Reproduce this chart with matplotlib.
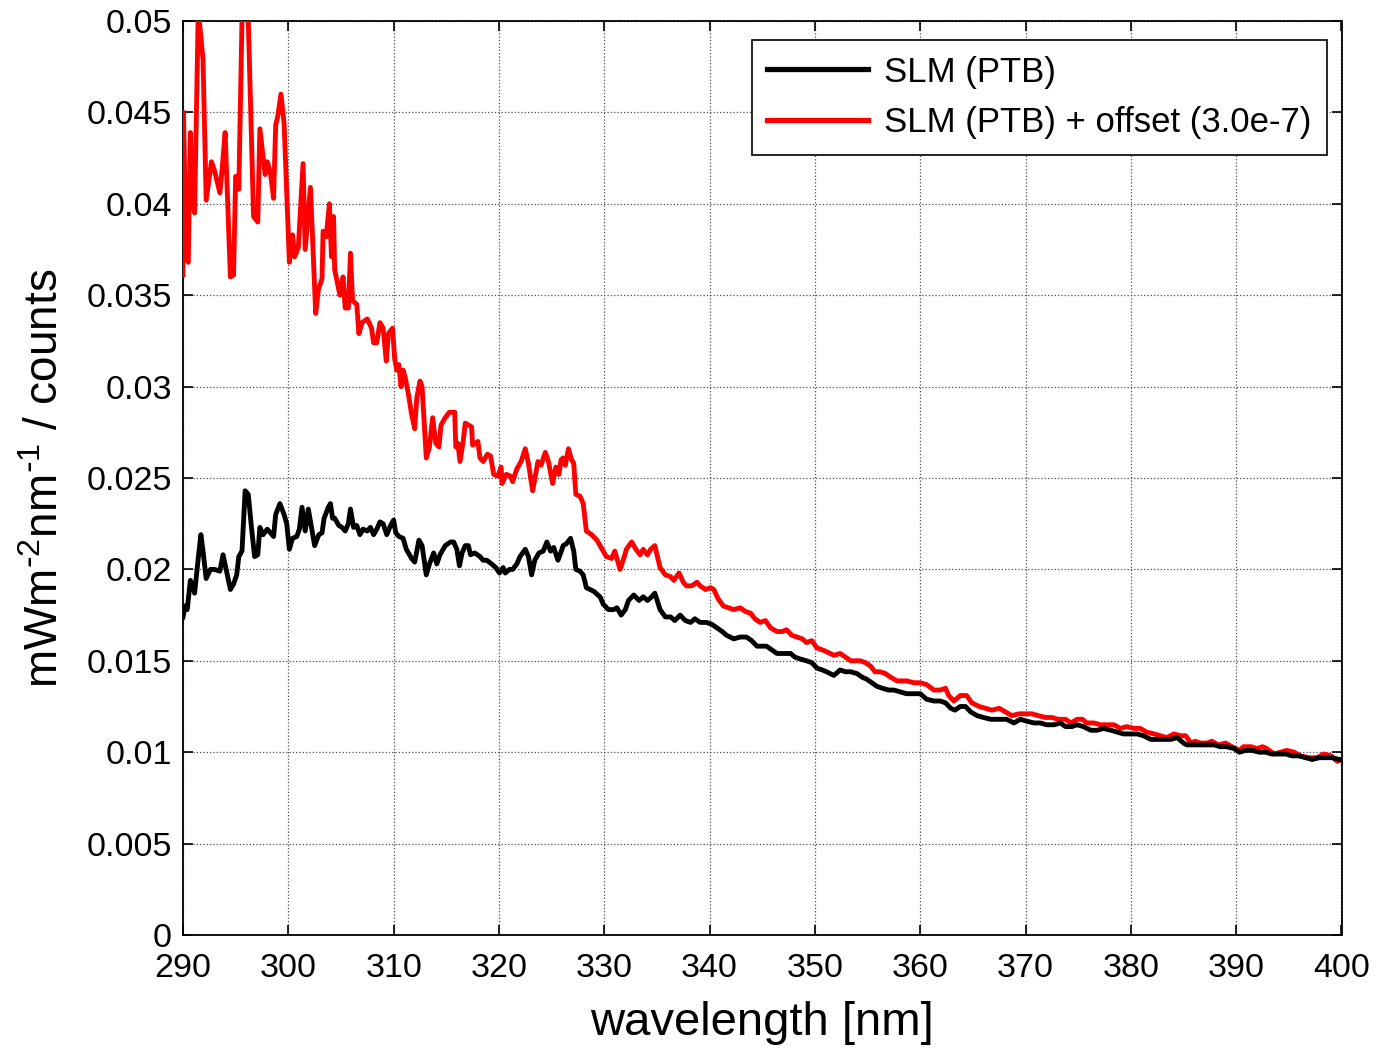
import matplotlib
matplotlib.use("Agg")
import matplotlib.pyplot as plt

# Spectral calibration factor, plain and with count offset
wl_offset = [
    290.0, 290.05, 290.3, 290.5, 290.7, 290.9, 291.1, 291.45, 291.9, 292.2,
    292.7, 293.0, 293.5, 293.7, 294.0, 294.5, 294.8, 295.0, 295.3, 295.6,
    295.9, 296.2, 296.7, 297.1, 297.3, 297.8, 298.0, 298.3, 298.6, 298.8,
    299.0, 299.3, 299.6, 300.1, 300.4, 300.6, 300.95, 301.4, 301.6, 302.1,
    302.6, 302.85, 303.2, 303.3, 303.6, 303.9, 304.1, 304.3, 304.4, 304.9,
    305.2, 305.4, 305.7, 305.9, 306.1, 306.5, 306.7, 307.0, 307.5, 307.9,
    308.1, 308.4, 308.7, 309.0, 309.3, 309.5, 309.9, 310.1, 310.3, 310.5,
    310.7, 310.9, 311.1, 311.4, 311.7, 312.0, 312.2, 312.5, 312.7, 313.1,
    313.4, 313.7, 314.0, 314.3, 314.5, 314.9, 315.3, 315.8, 315.9, 316.1,
    316.3, 316.6, 316.8, 317.1, 317.4, 317.5, 318.0, 318.2, 318.5, 318.9,
    319.2, 319.5, 319.9, 320.2, 320.3, 320.7, 321.1, 321.3, 321.7, 322.1,
    322.5, 322.8, 323.2, 323.7, 324.0, 324.4, 324.7, 325.1, 325.4, 325.7,
    325.9, 326.1, 326.3, 326.6, 326.9, 327.1, 327.3, 327.7, 328.0, 328.3,
    328.8, 329.3, 329.8, 330.2, 330.7, 331.0, 331.5, 331.9, 332.1, 332.6,
    333.0, 333.4, 333.7, 334.1, 334.4, 334.8, 335.3, 335.8, 336.3, 336.6,
    337.1, 337.5, 337.8, 338.3, 338.8, 339.1, 339.6, 340.1, 340.4, 340.8,
    341.3, 341.8, 342.3, 342.9, 343.4, 343.9, 344.3, 344.8, 345.3, 345.8,
    346.4, 346.9, 347.3, 347.8, 348.3, 348.8, 349.2, 349.7, 350.2, 350.7,
    351.1, 351.8, 352.4, 352.9, 353.4, 353.8, 354.3, 354.8, 355.3, 355.7,
    356.2, 356.7, 357.2, 357.8, 358.7, 359.4, 360.0, 360.6, 361.3, 361.9,
    362.4, 362.7, 363.2, 363.8, 364.4, 364.9, 365.6, 366.2, 366.8, 367.5,
    368.1, 368.7, 369.4, 370.0, 370.6, 371.2, 371.9, 372.5, 373.1, 373.8,
    374.3, 374.9, 375.4, 375.8, 376.5, 377.1, 377.7, 378.4, 379.0, 379.6,
    380.3, 380.9, 381.5, 382.2, 382.8, 383.4, 384.1, 384.7, 385.2, 385.7,
    386.1, 386.6, 387.2, 387.7, 388.3, 389.0, 389.6, 390.3, 390.7, 391.4,
    392.0, 392.5, 392.9, 393.6, 394.2, 394.8, 395.5, 396.1, 396.9, 397.7,
    398.3, 399.0, 399.6, 400.0,
]
slm_offset = [
    0.0361, 0.0450, 0.0371, 0.0368, 0.0439, 0.0401, 0.0395, 0.0506, 0.0479, 0.0402,
    0.0423, 0.0418, 0.0406, 0.0418, 0.0439, 0.0360, 0.0361, 0.0415, 0.0408, 0.0500,
    0.0530, 0.0500, 0.0393, 0.0390, 0.0441, 0.0416, 0.0423, 0.0417, 0.0403, 0.0443,
    0.0448, 0.0460, 0.0444, 0.0368, 0.0383, 0.0371, 0.0376, 0.0422, 0.0375, 0.0409,
    0.0340, 0.0353, 0.0359, 0.0385, 0.0382, 0.0400, 0.0371, 0.0393, 0.0364, 0.0350,
    0.0360, 0.0343, 0.0343, 0.0373, 0.0347, 0.0345, 0.0329, 0.0335, 0.0337, 0.0332,
    0.0324, 0.0324, 0.0335, 0.0332, 0.0314, 0.0329, 0.0332, 0.0315, 0.0309, 0.0312,
    0.0300, 0.0309, 0.0305, 0.0296, 0.0285, 0.0277, 0.0294, 0.0303, 0.0300, 0.0261,
    0.0267, 0.0283, 0.0269, 0.0267, 0.0279, 0.0283, 0.0286, 0.0286, 0.0267, 0.0269,
    0.0259, 0.0270, 0.0280, 0.0279, 0.0278, 0.0268, 0.0270, 0.0261, 0.0259, 0.0263,
    0.0262, 0.0252, 0.0251, 0.0256, 0.0247, 0.0252, 0.0251, 0.0248, 0.0255, 0.0259,
    0.0266, 0.0258, 0.0243, 0.0259, 0.0257, 0.0264, 0.0259, 0.0247, 0.0256, 0.0252,
    0.0260, 0.0261, 0.0257, 0.0266, 0.0260, 0.0258, 0.0241, 0.0240, 0.0236, 0.0221,
    0.0219, 0.0216, 0.0211, 0.0207, 0.0206, 0.0210, 0.0200, 0.0207, 0.0211, 0.0215,
    0.0211, 0.0208, 0.0211, 0.0208, 0.0211, 0.0213, 0.0201, 0.0197, 0.0196, 0.0194,
    0.0198, 0.0193, 0.0191, 0.0191, 0.0193, 0.0191, 0.0189, 0.0190, 0.0189, 0.0184,
    0.0180, 0.0179, 0.0178, 0.0179, 0.0177, 0.0176, 0.0173, 0.0171, 0.0172, 0.0168,
    0.0166, 0.0166, 0.0167, 0.0164, 0.0163, 0.0162, 0.0160, 0.0161, 0.0157, 0.0156,
    0.0155, 0.0153, 0.0154, 0.0152, 0.0150, 0.0150, 0.0150, 0.0149, 0.0147, 0.0144,
    0.0144, 0.0143, 0.0141, 0.0139, 0.0139, 0.0138, 0.0138, 0.0137, 0.0134, 0.0134,
    0.0135, 0.0131, 0.0128, 0.0131, 0.0131, 0.0127, 0.0125, 0.0124, 0.0123, 0.0124,
    0.0122, 0.0120, 0.0121, 0.0121, 0.0121, 0.0120, 0.0119, 0.0119, 0.0118, 0.0118,
    0.0116, 0.0118, 0.0118, 0.0116, 0.0116, 0.0115, 0.0115, 0.0115, 0.0113, 0.0114,
    0.0113, 0.0113, 0.0111, 0.0110, 0.0109, 0.0108, 0.0110, 0.0109, 0.0109, 0.0105,
    0.0106, 0.0105, 0.0105, 0.0106, 0.0104, 0.0105, 0.0103, 0.0101, 0.0103, 0.0103,
    0.0102, 0.0103, 0.0102, 0.0099, 0.0100, 0.0101, 0.0100, 0.0098, 0.0097, 0.0097,
    0.0099, 0.0098, 0.0095, 0.0096,
]

wl_plain = [
    290.0, 290.2, 290.4, 290.7, 290.9, 291.1, 291.5, 291.7, 291.9, 292.2,
    292.6, 293.0, 293.5, 293.8, 294.1, 294.5, 294.8, 295.1, 295.3, 295.6,
    295.9, 296.2, 296.5, 296.8, 297.1, 297.3, 297.6, 298.0, 298.3, 298.6,
    298.8, 299.2, 299.6, 299.85, 300.1, 300.4, 300.8, 301.05, 301.3, 301.6,
    301.9, 302.2, 302.5, 302.9, 303.2, 303.4, 303.8, 304.0, 304.2, 304.4,
    304.8, 305.1, 305.4, 305.7, 305.9, 306.2, 306.5, 306.8, 307.1, 307.5,
    307.8, 308.1, 308.4, 308.7, 309.0, 309.35, 309.7, 310.0, 310.2, 310.5,
    310.9, 311.2, 311.7, 312.0, 312.4, 312.7, 313.1, 313.4, 313.8, 314.1,
    314.4, 314.9, 315.4, 315.7, 316.0, 316.25, 316.5, 316.8, 317.1, 317.3,
    317.7, 318.2, 318.5, 318.85, 319.3, 319.7, 320.05, 320.4, 320.6, 321.0,
    321.3, 321.7, 322.0, 322.5, 322.8, 323.1, 323.4, 323.8, 324.2, 324.55,
    324.9, 325.2, 325.6, 325.8, 326.1, 326.4, 326.8, 327.1, 327.3, 327.7,
    328.0, 328.3, 329.0, 329.6, 329.9, 330.4, 330.9, 331.2, 331.6, 332.0,
    332.3, 332.8, 333.3, 333.7, 334.1, 334.5, 334.8, 335.3, 335.8, 336.3,
    336.7, 337.2, 337.7, 338.2, 338.6, 339.1, 339.7, 340.2, 340.7, 341.2,
    341.6, 342.3, 342.9, 343.5, 344.0, 344.5, 345.0, 345.4, 345.9, 346.4,
    347.0, 347.7, 348.1, 348.6, 349.2, 349.7, 350.2, 350.7, 351.1, 351.8,
    352.4, 352.9, 353.4, 354.0, 354.5, 354.9, 355.4, 355.9, 356.4, 357.0,
    357.5, 358.1, 358.7, 359.4, 360.0, 360.6, 361.3, 361.9, 362.4, 362.9,
    363.3, 363.8, 364.3, 364.8, 365.4, 366.0, 366.7, 367.3, 367.8, 368.2,
    368.9, 369.5, 370.1, 370.8, 371.4, 372.0, 372.7, 373.3, 373.8, 374.4,
    374.9, 375.5, 376.2, 376.8, 377.4, 378.1, 378.7, 379.3, 380.0, 380.6,
    381.2, 381.9, 382.5, 383.1, 383.8, 384.4, 385.0, 385.3, 386.0, 386.6,
    387.2, 387.9, 388.5, 389.1, 389.8, 390.3, 390.9, 391.5, 392.2, 392.8,
    393.4, 394.0, 394.7, 395.3, 395.9, 396.6, 397.2, 397.9, 398.5, 399.1,
    399.8, 400.0,
]
slm_plain = [
    0.0174, 0.0180, 0.0178, 0.0194, 0.0191, 0.0187, 0.0209, 0.0219, 0.0210, 0.0195,
    0.0200, 0.0200, 0.0199, 0.0208, 0.0200, 0.0189, 0.0192, 0.0197, 0.0207, 0.0210,
    0.0243, 0.0241, 0.0223, 0.0207, 0.0208, 0.0223, 0.0219, 0.0222, 0.0220, 0.0218,
    0.0230, 0.0236, 0.0230, 0.0225, 0.0211, 0.0217, 0.0218, 0.0222, 0.0234, 0.0221,
    0.0233, 0.0223, 0.0213, 0.0219, 0.0220, 0.0228, 0.0234, 0.0236, 0.0228, 0.0228,
    0.0224, 0.0223, 0.0221, 0.0225, 0.0233, 0.0223, 0.0224, 0.0219, 0.0222, 0.0221,
    0.0223, 0.0219, 0.0222, 0.0226, 0.0225, 0.0219, 0.0224, 0.0227, 0.0220, 0.0218,
    0.0217, 0.0211, 0.0206, 0.0204, 0.0216, 0.0213, 0.0197, 0.0203, 0.0209, 0.0203,
    0.0208, 0.0213, 0.0215, 0.0215, 0.0211, 0.0202, 0.0209, 0.0213, 0.0213, 0.0208,
    0.0209, 0.0207, 0.0205, 0.0205, 0.0203, 0.0201, 0.0198, 0.0201, 0.0198, 0.0200,
    0.0200, 0.0203, 0.0207, 0.0211, 0.0207, 0.0197, 0.0205, 0.0209, 0.0210, 0.0215,
    0.0210, 0.0212, 0.0205, 0.0208, 0.0213, 0.0214, 0.0217, 0.0210, 0.0200, 0.0199,
    0.0197, 0.0190, 0.0188, 0.0185, 0.0181, 0.0178, 0.0178, 0.0179, 0.0175, 0.0178,
    0.0183, 0.0186, 0.0183, 0.0185, 0.0183, 0.0185, 0.0187, 0.0178, 0.0174, 0.0174,
    0.0172, 0.0175, 0.0172, 0.0171, 0.0173, 0.0171, 0.0171, 0.0170, 0.0168, 0.0166,
    0.0164, 0.0162, 0.0163, 0.0163, 0.0161, 0.0158, 0.0158, 0.0158, 0.0156, 0.0154,
    0.0154, 0.0154, 0.0152, 0.0151, 0.0150, 0.0149, 0.0146, 0.0145, 0.0144, 0.0142,
    0.0145, 0.0144, 0.0144, 0.0143, 0.0141, 0.0140, 0.0138, 0.0136, 0.0135, 0.0134,
    0.0134, 0.0133, 0.0132, 0.0132, 0.0132, 0.0129, 0.0128, 0.0128, 0.0127, 0.0124,
    0.0123, 0.0125, 0.0125, 0.0122, 0.0120, 0.0119, 0.0118, 0.0118, 0.0118, 0.0118,
    0.0116, 0.0118, 0.0117, 0.0116, 0.0116, 0.0115, 0.0115, 0.0116, 0.0114, 0.0114,
    0.0115, 0.0114, 0.0112, 0.0112, 0.0113, 0.0112, 0.0111, 0.0110, 0.0110, 0.0110,
    0.0109, 0.0107, 0.0107, 0.0107, 0.0107, 0.0108, 0.0105, 0.0104, 0.0104, 0.0104,
    0.0104, 0.0104, 0.0103, 0.0103, 0.0102, 0.0100, 0.0101, 0.0101, 0.0100, 0.0100,
    0.0099, 0.0099, 0.0099, 0.0098, 0.0098, 0.0097, 0.0096, 0.0097, 0.0097, 0.0097,
    0.0096, 0.0096,
]

labels = ["SLM (PTB)", "SLM (PTB) + offset (3.0e-7)"]
x_ticks = [290, 300, 310, 320, 330, 340, 350, 360, 370, 380, 390, 400]
y_ticks = [0, 0.005, 0.01, 0.015, 0.02, 0.025, 0.03, 0.035, 0.04, 0.045, 0.05]
y_tick_labels = ["0", "0.005", "0.01", "0.015", "0.02", "0.025", "0.03",
                 "0.035", "0.04", "0.045", "0.05"]

plt.rcParams["font.family"] = ["Liberation Sans", "DejaVu Sans"]
plt.rcParams["mathtext.default"] = "regular"

fig = plt.figure(figsize=(13.77, 10.48), dpi=100)
ax = fig.add_axes([183 / 1377, 1 - 935 / 1048, (1341.5 - 183) / 1377, (935 - 21) / 1048])

ax.plot(wl_offset, slm_offset, color="red", lw=3.5, label=labels[1], zorder=3)
ax.plot(wl_plain, slm_plain, color="black", lw=3.5, label=labels[0], zorder=4)

ax.set_xlim(290, 400)
ax.set_ylim(0, 0.05)
ax.set_xticks(x_ticks)
ax.set_xticklabels([str(t) for t in x_ticks])
ax.set_yticks(y_ticks)
ax.set_yticklabels(y_tick_labels)

ax.grid(True, linestyle=":", color="0.3", linewidth=0.9)
ax.set_axisbelow(True)
ax.tick_params(direction="in", top=True, right=True, length=7, width=1.2,
               labelsize=24.5, colors="black")
ax.tick_params(axis="x", pad=13)
ax.tick_params(axis="y", pad=8)
for sp in ax.spines.values():
    sp.set_linewidth(1.3)
    sp.set_color("black")

ax.set_xlabel("wavelength [nm]", fontsize=34, labelpad=12)
ax.set_ylabel(r"mWm$^{\text{-}2}$nm$^{\text{-}1}$ / counts", fontsize=33, labelpad=13)

handles, hlabels = ax.get_legend_handles_labels()
order = [1, 0]
leg = ax.legend([handles[i] for i in order], [hlabels[i] for i in order],
                loc="upper right", bbox_to_anchor=(1327 / 1377, 1 - 40 / 1048),
                bbox_transform=fig.transFigure, fontsize=25, frameon=True,
                fancybox=False, edgecolor="black", framealpha=1,
                handlelength=2.9, handletextpad=0.46, borderpad=0.45,
                labelspacing=0.5, borderaxespad=0)
leg.get_frame().set_linewidth(1.2)
for h in leg.get_lines():
    h.set_linewidth(3.8)

fig.savefig("out.png", dpi=100)
